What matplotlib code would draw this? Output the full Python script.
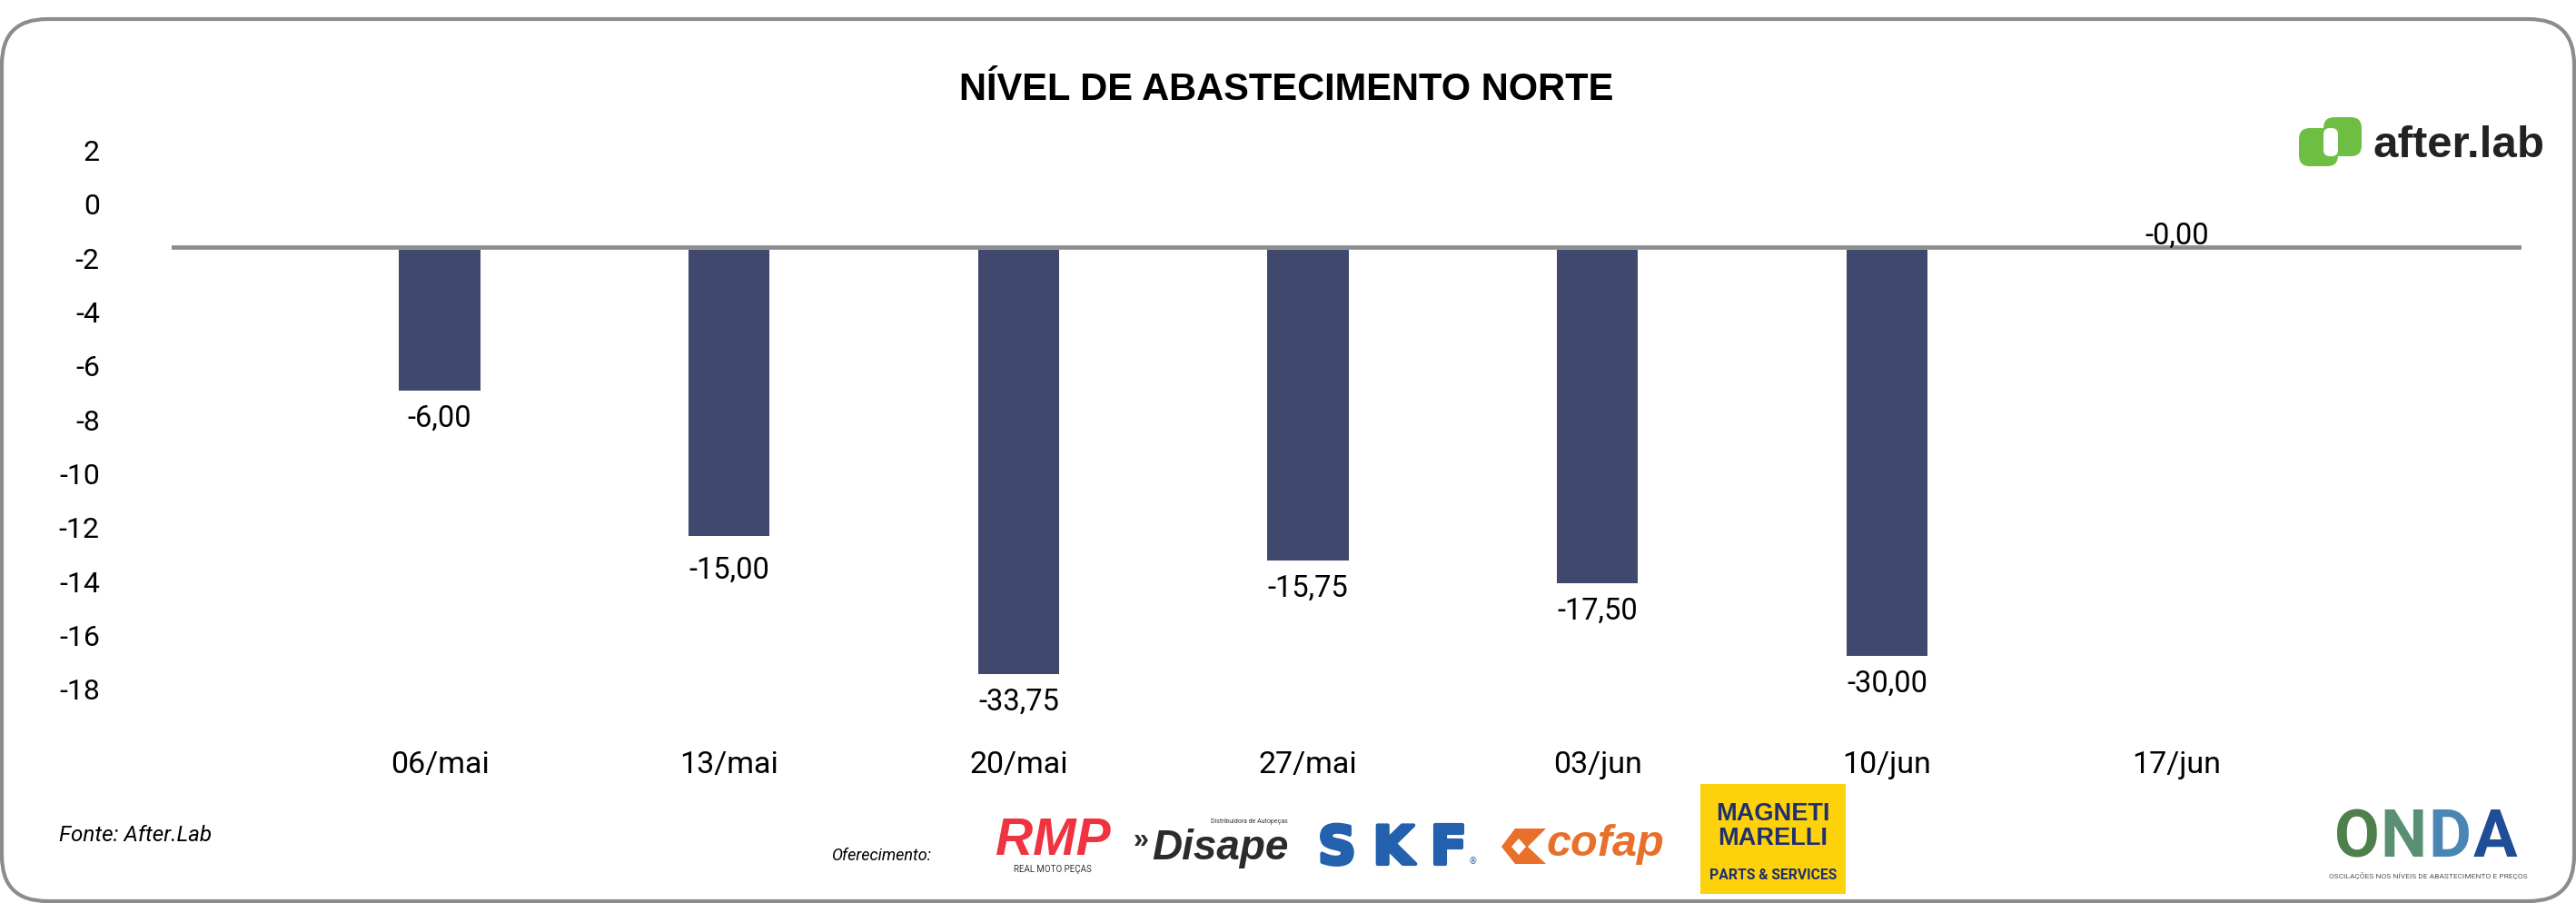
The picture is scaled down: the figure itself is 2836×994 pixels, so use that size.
import matplotlib
matplotlib.use("Agg")
import matplotlib.pyplot as plt
import matplotlib.patheffects as pe
from matplotlib.patches import FancyBboxPatch, Rectangle, Polygon

# Data
dates = ["06/mai", "13/mai", "20/mai", "27/mai", "03/jun", "10/jun", "17/jun"]
bar_ends = [-6.91, -12.31, -17.44, -13.22, -14.06, -16.76, -1.68]  # where bars stop on the axis
printed_values = [-6.00, -15.00, -33.75, -15.75, -17.50, -30.00, -0.00]  # labels printed on the bars
y_ticks = [2, 0, -2, -4, -6, -8, -10, -12, -14, -16, -18]
baseline = -1.68

BAR = "#40496d"
GREY = "#8a8c8e"
LABEL_FONT = "Roboto"

W, H = 2836, 994
fig = plt.figure(figsize=(W / 100, H / 100), dpi=100, facecolor="white")

# Overlay in pixel coordinates for frame, title and logos
bg = fig.add_axes([0, 0, 1, 1], zorder=0)
bg.set_xlim(0, W)
bg.set_ylim(H, 0)
bg.axis("off")

bg.add_patch(FancyBboxPatch((2, 21), W - 4, H - 23, boxstyle="round,pad=0,rounding_size=50",
                            fc="white", ec=GREY, lw=3))
bg.text(1416, 99, "NÍVEL DE ABASTECIMENTO NORTE", family="Liberation Sans", weight="bold",
        fontsize=30, ha="center", va="center", color="black")

# Chart
left, right, top, bottom = 189, 2776, 150, 780
ax = fig.add_axes([left / W, 1 - bottom / H, (right - left) / W, (bottom - top) / H], zorder=1)
ax.patch.set_alpha(0)
ax.set_ylim((225 - bottom) / 29.65, (225 - top) / 29.65)

positions = range(len(dates))
ax.bar(positions, [e - baseline for e in bar_ends], bottom=baseline, width=0.28, color=BAR)
ax.axhline(baseline + 0.08, color=GREY, lw=3.4)

# categories 318.7 px apart, first one at x=484
ax.set_xlim((left - 484) / 318.7, (right - 484) / 318.7)
ax.set_xticks(list(positions), dates)
ax.set_yticks(y_ticks, [str(t) for t in y_ticks])
ax.tick_params(axis="both", length=0, labelfontfamily=LABEL_FONT)
ax.tick_params(axis="y", pad=57, labelsize=23)
ax.tick_params(axis="x", pad=33, labelsize=24.5)
for s in ax.spines.values():
    s.set_visible(False)

label_offsets = [-22, -27, -22, -22, -22, -22, 11]
for i, (end, val) in enumerate(zip(bar_ends, printed_values)):
    text = f"{val:.2f}".replace(".", ",")
    ax.annotate(text, (i, end), xytext=(0, label_offsets[i]), textcoords="offset points",
                ha="center", va="center", fontsize=23.5, family=LABEL_FONT)

# Footer notes
bg.text(65, 920, "Fonte: After.Lab", family=LABEL_FONT, style="italic", fontsize=17.5, va="center")
bg.text(916, 942, "Oferecimento:", family=LABEL_FONT, style="italic", fontsize=13, va="center")

# after.lab logo
LOGO_GREEN = "#6fbe44"
bg.add_patch(FancyBboxPatch((2531, 141), 43, 42, boxstyle="round,pad=0,rounding_size=12",
                            fc=LOGO_GREEN, ec="none"))
bg.add_patch(FancyBboxPatch((2558, 129), 42, 43, boxstyle="round,pad=0,rounding_size=12",
                            fc=LOGO_GREEN, ec="none"))
bg.add_patch(FancyBboxPatch((2558, 141), 16, 31, boxstyle="round,pad=0,rounding_size=7",
                            fc="white", ec="none"))
bg.text(2612, 173, "after.lab", family="Liberation Sans", weight="bold", fontsize=35.5,
        color="#222222", va="baseline")

# RMP logo
bg.text(1159, 941, "RMP", family="Liberation Sans", weight="bold", style="italic", fontsize=41,
        color="#ef3340", ha="center", va="baseline")
bg.text(1159, 957, "REAL MOTO PEÇAS", family=LABEL_FONT, fontsize=7, color="#333333",
        ha="center", va="center")

# Disape logo
bg.text(1268, 946, "Disape", family="Liberation Sans", weight="bold", style="italic", fontsize=33,
        color="#2b2b2b", va="baseline")
bg.text(1248, 925, "»", family="Liberation Sans", weight="bold", fontsize=22, color="#2b2b2b", va="center")
bg.text(1418, 904, "Distribuidora de Autopeças", family=LABEL_FONT, fontsize=5, color="#333333",
        ha="right", va="center")

# SKF logo, letters thickened with a stroke
for letter, x in zip("SKF", [1472, 1534, 1595]):
    bg.text(x, 951, letter, family="DejaVu Sans", weight="bold", fontsize=42, color="#2360ae",
            ha="center", va="baseline",
            path_effects=[pe.withStroke(linewidth=3, foreground="#2360ae")])
bg.text(1622, 948, "®", family="DejaVu Sans", fontsize=7, color="#2360ae", ha="center", va="center")

# Cofap logo
bg.add_patch(Polygon([[1653, 932], [1668, 912], [1702, 912], [1682, 932], [1702, 951], [1668, 951]],
                     fc="#e8702a", ec="none"))
bg.add_patch(Polygon([[1664, 932], [1672, 923], [1680, 932], [1672, 941]], fc="white", ec="none"))
bg.text(1702, 942, "cofap", family="Liberation Sans", weight="bold", style="italic", fontsize=35,
        color="#e8702a", va="baseline")

# Magneti Marelli logo
bg.add_patch(Rectangle((1872, 863), 160, 121, fc="#fdd20a", ec="none"))
bg.text(1952, 896, "MAGNETI", family="Liberation Sans", weight="bold", fontsize=19.5, color="#1f2f6f",
        ha="center", va="center")
bg.text(1952, 923, "MARELLI", family="Liberation Sans", weight="bold", fontsize=19.5, color="#1f2f6f",
        ha="center", va="center")
bg.text(1952, 963, "PARTS & SERVICES", family=LABEL_FONT, weight="bold", fontsize=11.3, color="#1f2f6f",
        ha="center", va="center")

# ONDA logo
for letter, x, colour in zip("ONDA", [2595, 2646, 2697, 2747],
                             ["#4f7f4a", "#5a8f74", "#4a86b4", "#1f4e96"]):
    bg.text(x, 943, letter, family=LABEL_FONT, weight="bold", fontsize=52, color=colour,
            ha="center", va="baseline")
bg.text(2673, 964, "OSCILAÇÕES NOS NÍVEIS DE ABASTECIMENTO E PREÇOS", family=LABEL_FONT,
        fontsize=6, color="#555555", ha="center", va="center")

fig.savefig("out.png", dpi=100)
